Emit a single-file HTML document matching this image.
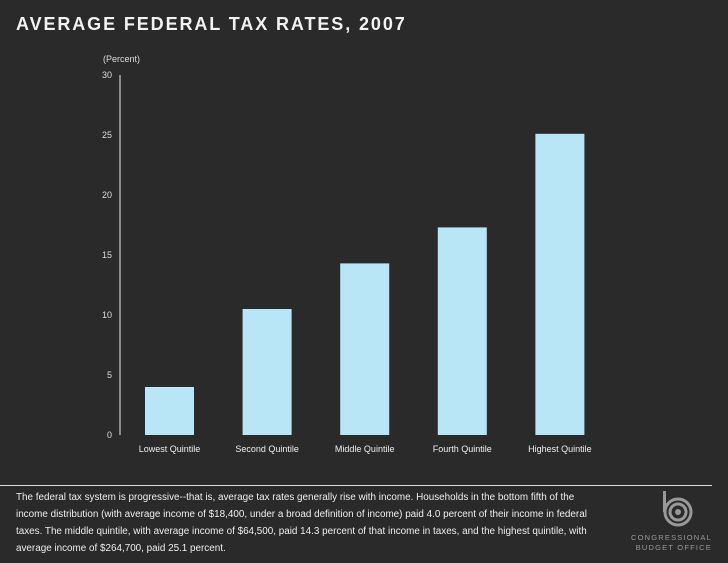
<!DOCTYPE html>
<html><head><meta charset="utf-8"><style>
html,body{margin:0;width:728px;height:563px;overflow:hidden}
body{background:#2b2a2b;font-family:"Liberation Sans",sans-serif;color:#fff;position:relative}
#title{position:absolute;left:16px;top:14px;font-size:18px;font-weight:bold;letter-spacing:1.9px;color:#f2f2f2}
#desc{position:absolute;left:16px;top:489px;font-size:9.9px;line-height:17px;color:#eee;white-space:nowrap}
#rule{position:absolute;left:0;top:485px;width:712px;height:1px;background:#ddd}
</style></head><body>
<div id="title">AVERAGE FEDERAL TAX RATES, 2007</div>
<svg id="chart" width="728" height="470" style="position:absolute;left:0;top:0"></svg>
<div id="rule"></div>
<div id="desc">The federal tax system is progressive--that is, average tax rates generally rise with income. Households in the bottom fifth of the<br>income distribution (with average income of $18,400, under a broad definition of income) paid 4.0 percent of their income in federal<br>taxes. The middle quintile, with average income of $64,500, paid 14.3 percent of that income in taxes, and the highest quintile, with<br>average income of $264,700, paid 25.1 percent.</div>
<svg width="90" height="70" style="position:absolute;left:630px;top:488px">
<g fill="none" stroke="#999" stroke-width="3">
<circle cx="48" cy="24" r="13"/><circle cx="48" cy="24" r="8"/>
</g>
<rect x="33" y="3" width="3" height="21" fill="#999"/>
<circle cx="48" cy="24" r="3" fill="#999"/>
<text x="82" y="52" font-size="7.5" fill="#999" text-anchor="end" letter-spacing="1.2">CONGRESSIONAL</text>
<text x="82" y="62" font-size="7.5" fill="#999" text-anchor="end" letter-spacing="1.2">BUDGET OFFICE</text>
</svg>
<script>
const categories=["Lowest Quintile","Second Quintile","Middle Quintile","Fourth Quintile","Highest Quintile"];
const values=[4.0,10.5,14.3,17.3,25.1];
const yTicks=[0,5,10,15,20,25,30];
const NS="http://www.w3.org/2000/svg";
const svg=document.getElementById('chart');
const y0=435,yTop=75,yMax=30;
const y=v=>y0-(v/yMax)*(y0-yTop);
const x=i=>169.5+i*97.6;
function mk(t,a,txt){const e=document.createElementNS(NS,t);for(const k in a)e.setAttribute(k,a[k]);if(txt!=null)e.textContent=txt;svg.appendChild(e);return e;}
const ax=mk('line',{x1:120,x2:120,y1:yTop,y2:y0,stroke:'#eee','stroke-width':1});


const ut=mk('text',{x:103,y:62,'font-size':9,fill:'#ddd'},'(Percent)');


yTicks.forEach(t=>{const e=mk('text',{x:112,y:y(t)+3,'font-size':9,fill:'#ddd','text-anchor':'end'},t);

});
categories.forEach((c,i)=>{
const b=mk('rect',{x:x(i)-24.5,y:y(values[i]),width:49,height:y0-y(values[i]),fill:'#b9e6f7'});


const l=mk('text',{x:x(i),y:452,'font-size':9,fill:'#eee','text-anchor':'middle'},c);


});
</script>
</body></html>
